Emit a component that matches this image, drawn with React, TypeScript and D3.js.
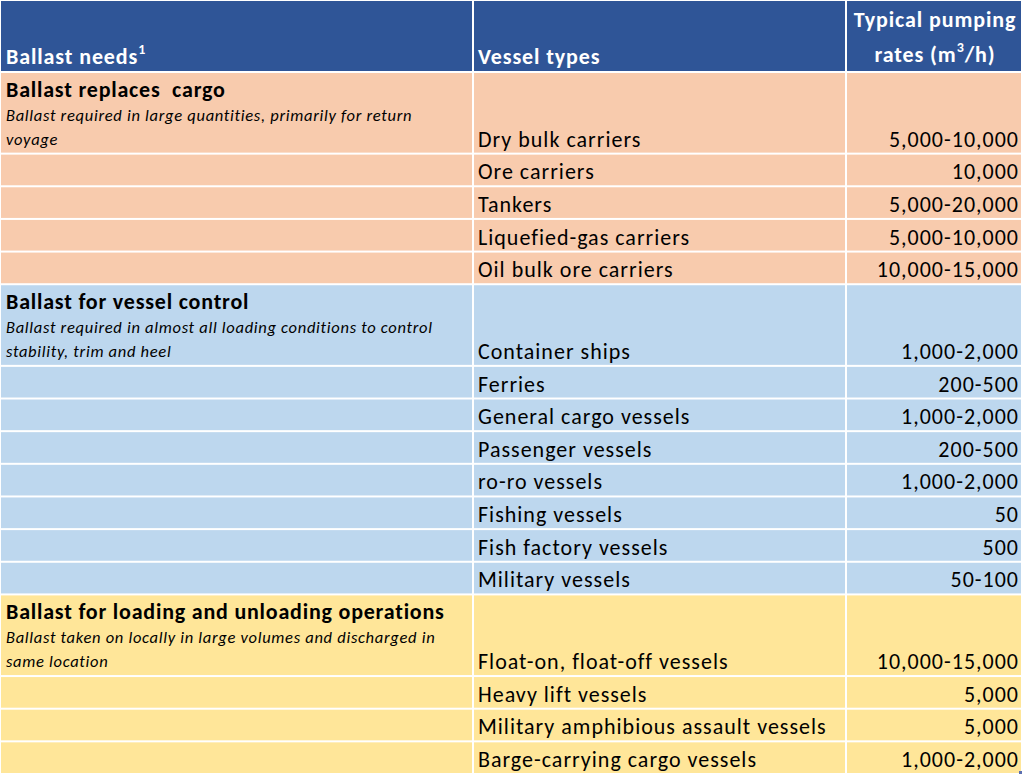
import { useEffect, useRef } from 'react';
import * as d3 from 'd3';

// table content
const groupTitles = [
  'Ballast replaces  cargo',
  'Ballast for vessel control',
  'Ballast for loading and unloading operations',
];
const groupNotes = [
  ['Ballast required in large quantities, primarily for return', 'voyage'],
  ['Ballast required in almost all loading conditions to control', 'stability, trim and heel'],
  ['Ballast taken on locally in large volumes and discharged in', 'same location'],
];
const groupFills = ['#f8cbad', '#bdd7ee', '#ffe699'];

const vesselTypes = [
  'Dry bulk carriers', 'Ore carriers', 'Tankers', 'Liquefied-gas carriers', 'Oil bulk ore carriers',
  'Container ships', 'Ferries', 'General cargo vessels', 'Passenger vessels', 'ro-ro vessels',
  'Fishing vessels', 'Fish factory vessels', 'Military vessels',
  'Float-on, float-off vessels', 'Heavy lift vessels', 'Military amphibious assault vessels',
  'Barge-carrying cargo vessels',
];
const pumpingRates = [
  '5,000-10,000', '10,000', '5,000-20,000', '5,000-10,000', '10,000-15,000',
  '1,000-2,000', '200-500', '1,000-2,000', '200-500', '1,000-2,000', '50', '500', '50-100',
  '10,000-15,000', '5,000', '5,000', '1,000-2,000',
];
const vesselGroup = [0, 0, 0, 0, 0, 1, 1, 1, 1, 1, 1, 1, 1, 2, 2, 2, 2];

const W = 1024;
const H = 775;
const FONT = 'Carlito, Calibri, Lato, sans-serif';

export default function App() {
  const svgRef = useRef<SVGSVGElement>(null);

  useEffect(() => {
    if (!svgRef.current) return;
    const svg = d3.select(svgRef.current);
    svg.selectAll('*').remove();
    svg.attr('width', W).attr('height', H);

    const colEdges = [1, 473, 846, 1022];
    const headerH = 71;
    const gap = 2;

    // row heights in "units": the first row of a group is tall
    const units = vesselGroup.map((g, i) => (i === 0 || vesselGroup[i - 1] !== g ? 2.5 : 1));
    const starts: number[] = [];
    let acc = 0;
    units.forEach((u) => { starts.push(acc); acc += u; });
    const y = d3.scaleLinear().domain([0, acc]).range([headerH + gap, H]);

    svg.append('rect').attr('width', W).attr('height', H).attr('fill', '#ffffff');

    const g = svg.append('g').attr('font-family', FONT);

    // header
    for (let c = 0; c < 3; c++) {
      g.append('rect')
        .attr('x', colEdges[c] + (c ? 1 : 0))
        .attr('y', 1)
        .attr('width', colEdges[c + 1] - colEdges[c] - (c ? 1 : 0) - 1)
        .attr('height', headerH - 1)
        .attr('fill', '#2f5597');
    }
    const hdr = g.append('g')
      .attr('font-weight', 'bold')
      .attr('font-size', 22)
      .attr('letter-spacing', 0.9)
      .attr('fill', '#ffffff');
    const t1 = hdr.append('text').attr('x', 6).attr('y', 64).text('Ballast needs');
    t1.append('tspan').attr('font-size', 14).attr('dy', -10).text('1');
    hdr.append('text').attr('x', 478).attr('y', 64).text('Vessel types');
    const cx3 = (colEdges[2] + colEdges[3]) / 2 + 1;
    hdr.append('text').attr('x', cx3).attr('y', 27).attr('text-anchor', 'middle').text('Typical pumping');
    const t3 = hdr.append('text').attr('x', cx3).attr('y', 62).attr('text-anchor', 'middle').text('rates (m');
    t3.append('tspan').attr('font-size', 14).attr('dy', -10).text('3');
    t3.append('tspan').attr('dy', 10).text('/h)');

    // body rows
    vesselTypes.forEach((name, i) => {
      const top = y(starts[i]);
      const bottom = y(starts[i] + units[i]);
      const fill = groupFills[vesselGroup[i]];
      for (let c = 0; c < 3; c++) {
        g.append('rect')
          .attr('x', colEdges[c] + (c ? 1 : 0))
          .attr('y', top)
          .attr('width', colEdges[c + 1] - colEdges[c] - (c ? 1 : 0) - 1)
          .attr('height', bottom - top - gap)
          .attr('fill', fill);
      }
      const base = bottom - gap - 6;
      g.append('text')
        .attr('x', 478).attr('y', base)
        .attr('font-size', 22).attr('letter-spacing', 1).attr('fill', '#000')
        .text(name);
      g.append('text')
        .attr('x', colEdges[3] - 3).attr('y', base)
        .attr('text-anchor', 'end')
        .attr('font-size', 22).attr('letter-spacing', 1).attr('fill', '#000')
        .text(pumpingRates[i]);

      if (units[i] > 1) {
        const gi = vesselGroup[i];
        g.append('text')
          .attr('x', 6).attr('y', top + 24)
          .attr('xml:space', 'preserve')
          .style('white-space', 'pre')
          .attr('font-weight', 'bold').attr('font-size', 22).attr('letter-spacing', 0.8).attr('fill', '#000')
          .text(groupTitles[gi]);
        groupNotes[gi].forEach((line, k) => {
          g.append('text')
            .attr('x', 6).attr('y', top + 48 + k * 24)
            .attr('font-style', 'italic').attr('font-size', 16.5).attr('letter-spacing', 0.7).attr('fill', '#000')
            .text(line);
        });
      }
    });

    // fill handle mark in the corner
    g.append('rect')
      .attr('x', colEdges[3] - 3).attr('y', H - 4)
      .attr('width', 3).attr('height', 3)
      .attr('fill', '#5b6fb0');
  }, []);

  return (
    <div style={{ position: 'absolute', left: 0, top: 0 }}>
      <svg ref={svgRef} style={{ display: 'block' }}></svg>
    </div>
  );
}
